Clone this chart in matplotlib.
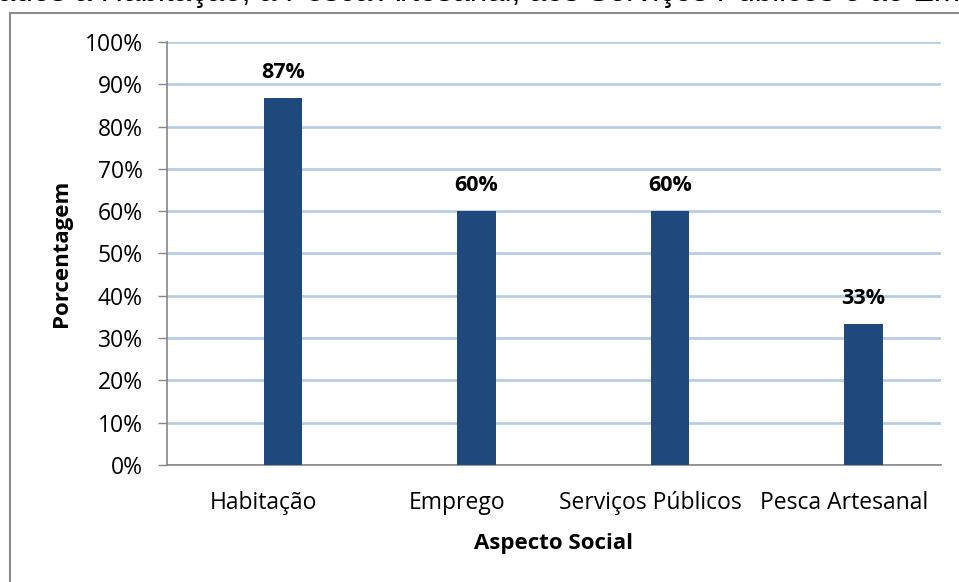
import matplotlib
matplotlib.use("Agg")
import matplotlib.pyplot as plt
from matplotlib.patches import Rectangle
import numpy as np

# data
aspectos = ["Habitação", "Emprego", "Serviços Públicos", "Pesca Artesanal"]
porcentagem = [86.7, 60.0, 60.0, 33.3]
titulo = "ados à Habitação, à Pesca Artesanal, aos Serviços Públicos e ao Emprego"

bar_color = "#1F497D"
grid_color = "#B9CDE5"
axis_color = "#868686"
font = ["Open Sans", "DejaVu Sans"]

plt.rcParams["font.family"] = font

fig = plt.figure(figsize=(9.59, 5.82), dpi=100)

# cropped title at the very top (only the bottom of the letters shows)
fig.text(-0.002, 1 - 1 / 582, titulo, ha="left", va="baseline", fontsize=22.5,
         family=["Liberation Sans", "DejaVu Sans"], color="black")

# chart border (runs off the right and bottom edges)
fig.patches.append(Rectangle((10 / 959, -0.05), 1.0, 1 - 13 / 582 + 0.05,
                             transform=fig.transFigure, fill=False,
                             edgecolor="#8C8C8C", linewidth=1.5))

ax = fig.add_axes([167 / 959, 1 - 465 / 582, (941 - 167) / 959, (465 - 42) / 582])

x = np.arange(len(aspectos))
ax.bar(x + 0.1, porcentagem, width=0.2, color=bar_color, zorder=3)

for xi, v in zip(x, porcentagem):
    ax.text(xi + 0.1, v + 4.8, "{:.0f}%".format(v), ha="center", va="baseline",
            fontsize=15.5, fontweight="bold")

ax.set_xlim(-0.5, 3.5)
ax.set_ylim(0, 100)
ax.set_yticks(np.arange(0, 101, 10))
ax.set_yticklabels(["{}%".format(t) for t in range(0, 101, 10)], fontsize=16.5)
ax.set_xticks(x)
ax.set_xticklabels(aspectos, fontsize=16.5)
ax.tick_params(axis="x", length=0, pad=19)
ax.tick_params(axis="y", length=6.5, width=1, color=axis_color, pad=11)

ax.yaxis.grid(True, color=grid_color, linewidth=2, zorder=0)
ax.set_axisbelow(True)

for side in ["top", "right"]:
    ax.spines[side].set_visible(False)
ax.spines["left"].set_color(axis_color)
ax.spines["bottom"].set_color(axis_color)
ax.spines["left"].set_linewidth(1.2)
ax.spines["bottom"].set_linewidth(1.2)

ax.set_ylabel("Porcentagem", fontsize=16, fontweight="bold", labelpad=9)
ax.set_xlabel("Aspecto Social", fontsize=16, fontweight="bold", labelpad=13)

plt.savefig("out.png", dpi=100)
plt.close()
